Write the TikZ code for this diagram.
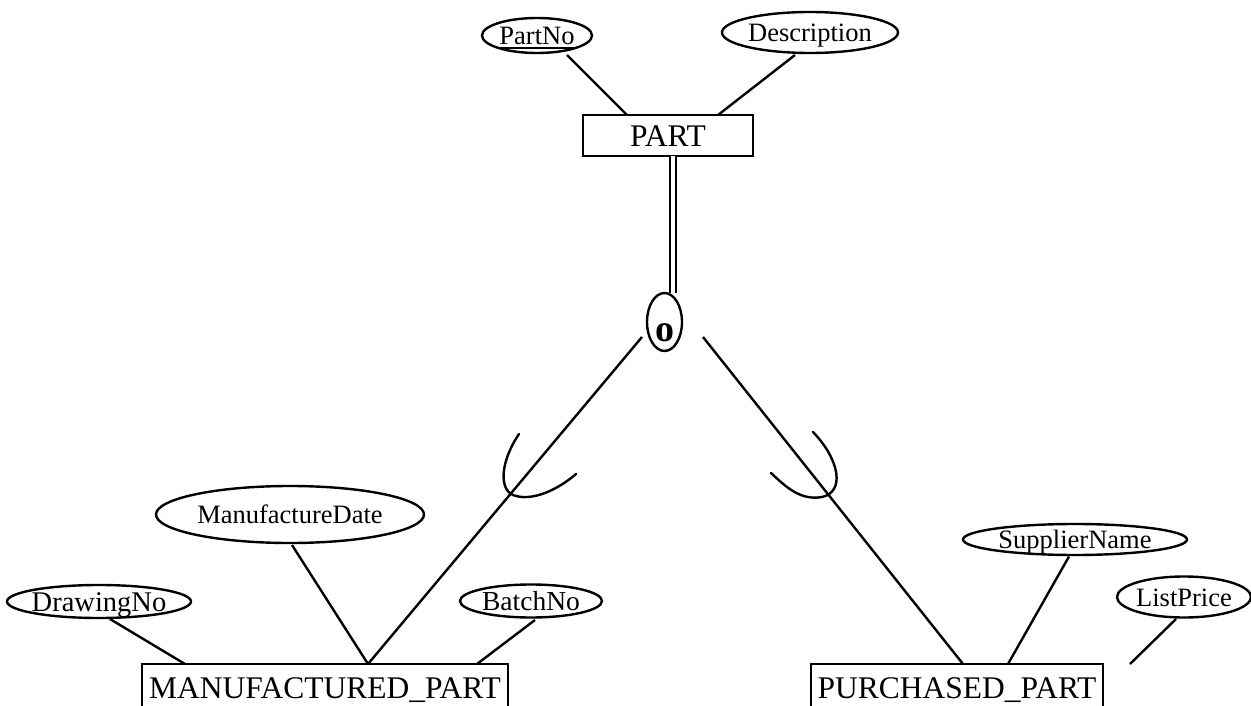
\documentclass[tikz,border=0pt]{standalone}
\usepackage{fontspec}
\setmainfont{Liberation Serif}
\usetikzlibrary{shapes.geometric,calc}

% centred label of zero size, so that the node keeps the size it is given
\newcommand\ertext[2][0.34em]{\smash{\raisebox{-#1}{\makebox[0pt]{#2}}}}
% underlined key attribute
\newcommand\keyname[1]{\setbox0\hbox{#1}\rlap{\rule[-4pt]{\wd0}{1.3pt}}\box0}

\begin{document}
\begin{tikzpicture}[x=1pt,y=-1pt,line width=2.4pt,
  attr/.style={draw, ellipse, inner sep=0pt, outer sep=0pt,
    font=\fontsize{26.5}{30}\selectfont},
  entity/.style={draw, rectangle, inner sep=0pt, outer sep=0pt,
    font=\fontsize{31.5}{36}\selectfont},
  isacircle/.style={draw, ellipse, inner sep=0pt, outer sep=0pt,
    minimum width=35pt, minimum height=58pt,
    font=\bfseries\fontsize{38}{40}\selectfont},
  subsetarc/.style={line width=2.4pt, line cap=round},
]
\useasboundingbox (0,0) rectangle (1251,706);
\clip (0,0) rectangle (1251,706);

% superclass and its attributes
\node[entity, minimum width=170pt, minimum height=41pt] (part) at (668,135.5) {\ertext{PART}};
\node[attr, minimum width=110pt, minimum height=35pt] (partno) at (537,35.5) {\ertext{\keyname{PartNo}}};
\node[attr, minimum width=176pt, minimum height=41pt] (desc) at (810,32.5) {\ertext{Description}};

% specialisation circle
\node[isacircle] (isa) at (664.5,322) {\ertext[19.5pt]{o}};

% subclasses
\node[entity, minimum width=366pt, minimum height=48pt] (mpart) at (325,688) {\ertext{MANUFACTURED\_PART}};
\node[entity, minimum width=292pt, minimum height=48pt] (ppart) at (957,688) {\ertext{PURCHASED\_PART}};

% subclass attributes
\node[attr, minimum width=184pt, minimum height=33pt, font=\fontsize{28.5}{32}\selectfont] (drawing) at (99,601.5) {\ertext{DrawingNo}};
\node[attr, minimum width=268pt, minimum height=57pt] (mdate) at (290,514.5) {\ertext{ManufactureDate}};
\node[attr, minimum width=142pt, minimum height=33pt, font=\fontsize{27.5}{31}\selectfont] (batch) at (531,601) {\ertext{BatchNo}};
\node[attr, minimum width=224pt, minimum height=31pt] (sname) at (1075,539.5) {\ertext{SupplierName}};
\node[attr, minimum width=134pt, minimum height=41pt] (lprice) at (1184,597) {\ertext{ListPrice}};
\coordinate (lpend) at (1130,664);

% attribute links
\draw ($(partno)+(30,19.5)$) -- ($(part.north west)+(44,0)$);
\draw ($(desc)+(-15,22.5)$) -- ($(part.north east)+(-35,0)$);
\draw ($(drawing)+(11,17.5)$) -- ($(mpart.north west)+(43,0)$);
\draw ($(mdate)+(2,30.5)$) -- ($(mpart.north)+(43,0)$);
\draw ($(batch)+(4,19)$) -- ($(mpart.north east)+(-31,0)$);
\draw ($(sname)+(-6,17)$) -- ($(ppart.north east)+(-95,0)$);
\draw ($(lprice)+(-8,22)$) -- (lpend);

% total participation of the superclass
\draw[double, line width=2pt, double distance=3.5pt] ($(part.south)+(5,0)$) -- ($(isa.north)+(8.5,0)$);

% specialisation links
\draw ($(isa)+(-22.5,15)$) -- ($(mpart.north)+(43,0)$);
\draw ($(isa)+(38.5,15)$) -- ($(ppart.north)+(6,0)$);

% subset marks on the specialisation links
\draw[subsetarc] (519,434) .. controls (500,462) and (498,492) .. (516,496)
  .. controls (535,501) and (560,488) .. (576,474);
\draw[subsetarc] (813,432) .. controls (840,460) and (845,492) .. (822,497)
  .. controls (800,501) and (785,486) .. (771,473);
\end{tikzpicture}
\end{document}
